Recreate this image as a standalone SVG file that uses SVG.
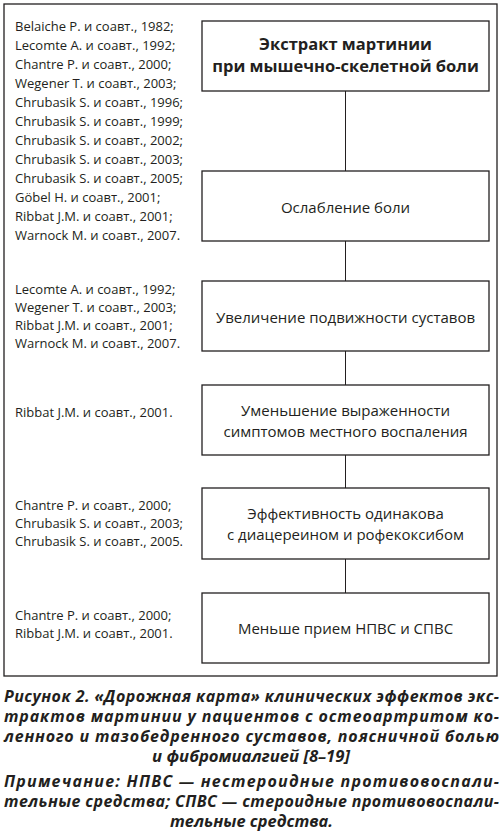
<svg xmlns="http://www.w3.org/2000/svg" width="503" height="838" viewBox="0 0 503 838">
<style>
.frame{fill:none;stroke:#231f20;stroke-width:1.3}
.box{fill:#fff;stroke:#231f20;stroke-width:1.3}
.conn{stroke:#231f20;stroke-width:1;fill:none}
.ref{font-family:"Open Sans","Liberation Sans",sans-serif;font-size:13px;fill:#231f20}
.lbl{font-family:"Open Sans","Liberation Sans",sans-serif;font-size:15px;fill:#231f20;text-anchor:middle}
.ttl{font-family:"Open Sans","Liberation Sans",sans-serif;font-size:16.5px;font-weight:bold;fill:#231f20;text-anchor:middle}
.cap{font-family:"Open Sans","Liberation Sans",sans-serif;font-size:16px;font-weight:bold;font-style:italic;fill:#231f20}
</style>
<rect x="0" y="0" width="503" height="838" fill="#fff"/>
<rect class="frame" x="4" y="4" width="493" height="672"/>
<g id="connectors">
<line class="conn" x1="345.5" y1="91" x2="345.5" y2="171"/>
<line class="conn" x1="345.5" y1="241" x2="345.5" y2="281"/>
<line class="conn" x1="345.5" y1="351" x2="345.5" y2="385"/>
<line class="conn" x1="345.5" y1="455" x2="345.5" y2="488"/>
<line class="conn" x1="345.5" y1="559" x2="345.5" y2="593"/>
</g>
<g id="n1">
<rect class="box" x="202" y="21" width="287" height="70"/>
<text class="ttl" x="345.5" y="50">Экстракт мартинии</text>
<text class="ttl" x="345.5" y="72">при мышечно-скелетной боли</text>
</g>
<g id="n2">
<rect class="box" x="202" y="171" width="287" height="70"/>
<text class="lbl" x="345.5" y="213">Ослабление боли</text>
</g>
<g id="n3">
<rect class="box" x="202" y="281" width="287" height="70"/>
<text class="lbl" x="345.5" y="323">Увеличение подвижности суставов</text>
</g>
<g id="n4">
<rect class="box" x="202" y="385" width="287" height="70"/>
<text class="lbl" x="345.5" y="416">Уменьшение выраженности</text>
<text class="lbl" x="345.5" y="437">симптомов местного воспаления</text>
</g>
<g id="n5">
<rect class="box" x="202" y="488" width="287" height="71"/>
<text class="lbl" x="345.5" y="519">Эффективность одинакова</text>
<text class="lbl" x="345.5" y="540">с диацереином и рофекоксибом</text>
</g>
<g id="n6">
<rect class="box" x="202" y="593" width="287" height="70"/>
<text class="lbl" x="345.5" y="634">Меньше прием НПВС и СПВС</text>
</g>
<g id="refs1">
<text class="ref" x="15" y="31">Belaiche P. и соавт., 1982;</text>
<text class="ref" x="15" y="50">Lecomte A. и соавт., 1992;</text>
<text class="ref" x="15" y="69">Chantre P. и соавт., 2000;</text>
<text class="ref" x="15" y="88">Wegener T. и соавт., 2003;</text>
<text class="ref" x="15" y="107">Chrubasik S. и соавт., 1996;</text>
<text class="ref" x="15" y="126">Chrubasik S. и соавт., 1999;</text>
<text class="ref" x="15" y="145">Chrubasik S. и соавт., 2002;</text>
<text class="ref" x="15" y="164">Chrubasik S. и соавт., 2003;</text>
<text class="ref" x="15" y="183">Chrubasik S. и соавт., 2005;</text>
<text class="ref" x="15" y="202">Göbel H. и соавт., 2001;</text>
<text class="ref" x="15" y="221">Ribbat J.M. и соавт., 2001;</text>
<text class="ref" x="15" y="240">Warnock M. и соавт., 2007.</text>
</g>
<g id="refs3">
<text class="ref" x="15" y="294">Lecomte A. и соавт., 1992;</text>
<text class="ref" x="15" y="312">Wegener T. и соавт., 2003;</text>
<text class="ref" x="15" y="330">Ribbat J.M. и соавт., 2001;</text>
<text class="ref" x="15" y="348">Warnock M. и соавт., 2007.</text>
</g>
<g id="refs4">
<text class="ref" x="15" y="417">Ribbat J.M. и соавт., 2001.</text>
</g>
<g id="refs5">
<text class="ref" x="15" y="510">Chantre P. и соавт., 2000;</text>
<text class="ref" x="15" y="528">Chrubasik S. и соавт., 2003;</text>
<text class="ref" x="15" y="546">Chrubasik S. и соавт., 2005.</text>
</g>
<g id="refs6">
<text class="ref" x="15" y="620">Chantre P. и соавт., 2000;</text>
<text class="ref" x="15" y="638">Ribbat J.M. и соавт., 2001.</text>
</g>
<g id="caption">
<text class="cap" x="4" y="702" textLength="495" lengthAdjust="spacing">Рисунок 2. «Дорожная карта» клинических эффектов экс-</text>
<text class="cap" x="4" y="722" textLength="495" lengthAdjust="spacing">трактов мартинии у пациентов с остеоартритом ко-</text>
<text class="cap" x="4" y="742" textLength="495" lengthAdjust="spacing">ленного и тазобедренного суставов, поясничной болью</text>
<text class="cap" x="152" y="762" textLength="198" lengthAdjust="spacingAndGlyphs">и фибромиалгией [8–19]</text>
<text class="cap" x="4" y="787" textLength="495" lengthAdjust="spacing">Примечание: НПВС — нестероидные противовоспали-</text>
<text class="cap" x="4" y="807" textLength="495" lengthAdjust="spacing">тельные средства; СПВС — стероидные противовоспали-</text>
<text class="cap" x="170" y="827" textLength="163" lengthAdjust="spacingAndGlyphs">тельные средства.</text>
</g>
</svg>
